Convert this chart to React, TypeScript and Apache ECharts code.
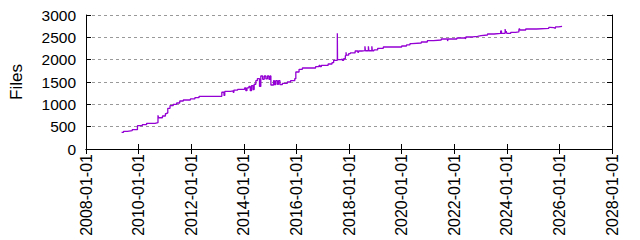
import React, { useEffect, useRef } from "react";
import * as echarts from "echarts";

const dates = [
  "2009-05-10", "2009-06-06", "2009-07-29", "2009-10-04", "2009-12-16",
  "2010-02-21", "2010-04-22", "2010-08-17", "2010-09-27", "2010-10-04",
  "2010-11-28", "2011-01-08", "2011-01-29", "2011-02-10", "2011-03-13",
  "2011-04-26", "2011-06-13", "2011-07-26", "2011-09-13", "2011-12-20",
  "2012-02-21", "2012-04-19", "2013-03-02", "2013-04-01", "2013-04-12",
  "2013-07-01", "2013-08-07", "2013-08-17", "2013-10-08", "2014-01-12",
  "2014-01-29", "2014-02-14", "2014-03-13", "2014-04-01", "2014-04-19",
  "2014-05-10", "2014-05-25", "2014-06-17", "2014-07-08", "2014-08-07",
  "2014-08-25", "2014-09-20", "2014-10-12", "2014-11-03", "2014-11-25",
  "2014-12-16", "2015-01-02", "2015-01-12", "2015-02-18", "2015-03-02",
  "2015-03-20", "2015-04-12", "2015-04-28", "2015-05-18", "2015-06-20",
  "2015-08-28", "2015-10-12", "2015-12-09", "2015-12-24", "2016-02-07",
  "2016-03-24", "2016-09-24", "2016-11-11", "2016-11-25", "2016-12-13",
  "2017-03-17", "2017-05-10", "2017-06-02", "2017-07-23", "2017-07-26",
  "2017-09-13", "2017-10-01", "2017-10-19", "2017-11-11", "2017-11-21",
  "2017-11-25", "2017-12-27", "2018-01-19", "2018-03-27", "2018-05-03",
  "2018-05-14", "2018-06-27", "2018-08-10", "2018-08-17", "2018-09-27",
  "2018-10-04", "2018-11-14", "2018-11-21", "2018-12-13", "2019-02-03",
  "2019-04-22", "2020-01-02", "2020-03-09", "2020-04-26", "2020-05-25",
  "2020-10-01", "2020-12-24", "2021-03-20", "2021-07-05", "2021-10-01",
  "2021-10-08", "2022-02-07", "2022-06-06", "2022-06-13", "2022-09-13",
  "2022-11-21", "2023-01-08", "2023-04-08", "2023-07-08", "2023-10-08",
  "2023-10-19", "2023-12-09", "2023-12-16", "2023-12-24", "2024-01-01",
  "2024-02-25", "2024-05-03", "2024-06-17", "2024-06-24", "2024-07-01",
  "2024-09-20", "2025-02-18", "2025-08-07", "2025-08-25", "2025-10-15",
  "2025-11-07", "2025-12-20", "2026-02-07",
];

const files = [
  374, 396, 410, 432, 522,
  544, 575, 590, 754, 700,
  739, 790, 806, 911, 970,
  1000, 1030, 1075, 1097, 1120,
  1150, 1180, 1270, 1200, 1290,
  1300, 1270, 1320, 1337, 1366,
  1305, 1370, 1400, 1305, 1420,
  1330, 1450, 1530, 1574, 1400,
  1634, 1560, 1634, 1570, 1634,
  1560, 1634, 1433, 1530, 1440,
  1530, 1450, 1530, 1440, 1470,
  1500, 1530, 1574, 1724, 1784,
  1813, 1843, 1870, 1843, 1870,
  1903, 1933, 1985, 2590, 2000,
  2015, 1985, 2020, 2090, 2165,
  2100, 2134, 2150, 2194, 2165,
  2194, 2202, 2300, 2200, 2300,
  2200, 2300, 2200, 2217, 2254,
  2284, 2306, 2329, 2358, 2373,
  2396, 2425, 2440, 2463, 2418,
  2463, 2485, 2463, 2508, 2522,
  2537, 2552, 2575, 2590, 2642,
  2590, 2687, 2600, 2640, 2590,
  2612, 2620, 2664, 2700, 2664,
  2687, 2702, 2724, 2717, 2702,
  2732, 2747, 2747,
];

const xTickYears = [2008, 2010, 2012, 2014, 2016, 2018, 2020, 2022, 2024, 2026, 2028];
const yTicks = [0, 500, 1000, 1500, 2000, 2500, 3000];

function toYear(s: string): number {
  const [y, m, d] = s.split("-").map(Number);
  const start = Date.UTC(y, 0, 1);
  const end = Date.UTC(y + 1, 0, 1);
  return y + (Date.UTC(y, m - 1, d) - start) / (end - start);
}

const FONT = "Liberation Sans";

export default function App() {
  const ref = useRef<HTMLDivElement>(null);
  useEffect(() => {
    if (!ref.current) return;
    const chart = echarts.init(ref.current, undefined, { renderer: "svg" });
    const xMin = xTickYears[0];
    const xMax = xTickYears[xTickYears.length - 1];
    const yMin = yTicks[0];
    const yMax = yTicks[yTicks.length - 1];
    const common = {
      min: xMin,
      max: xMax,
      interval: 2,
      axisLine: { show: true, lineStyle: { color: "#000", width: 1 } },
      axisTick: { show: true, inside: true, length: 5, lineStyle: { color: "#000" } },
      splitLine: { show: false },
    };
    const commonY = {
      min: yMin,
      max: yMax,
      interval: 500,
      axisLine: { show: true, lineStyle: { color: "#000", width: 1 } },
      axisTick: { show: true, inside: true, length: 5, lineStyle: { color: "#000" } },
    };
    chart.setOption({
      animation: false,
      grid: { left: 82, right: 28, top: 15, bottom: 91, containLabel: false },
      xAxis: [
        {
          type: "value",
          position: "bottom",
          ...common,
          axisLabel: {
            rotate: 90,
            margin: 5,
            fontSize: 16,
            fontFamily: FONT,
            color: "#000",
            formatter: (v: number) => `${v}-01-01`,
          },
        },
        {
          type: "value",
          position: "top",
          ...common,
          axisLabel: { show: false },
        },
      ],
      yAxis: [
        {
          type: "value",
          position: "left",
          ...commonY,
          name: "Files",
          nameLocation: "middle",
          nameGap: 61,
          nameRotate: 90,
          nameTextStyle: { fontSize: 17, fontFamily: FONT, color: "#000" },
          axisLabel: {
            margin: 10,
            fontSize: 15.5,
            fontFamily: FONT,
            color: "#000",
            formatter: (v: number) => String(v),
          },
          splitLine: {
            show: true,
            lineStyle: { color: "#999999", type: [3, 3], width: 1 },
          },
        },
        {
          type: "value",
          position: "right",
          ...commonY,
          axisLabel: { show: false },
          splitLine: { show: false },
        },
      ],
      series: [
        {
          type: "line",
          step: "end",
          xAxisIndex: 0,
          yAxisIndex: 0,
          showSymbol: false,
          symbol: "none",
          lineStyle: { color: "#9400d3", width: 1.3 },
          data: dates.map((d, i) => [toYear(d), files[i]]),
        },
      ],
    });
    return () => chart.dispose();
  }, []);
  return (
    <div
      ref={ref}
      style={{ position: "fixed", left: 0, top: 0, width: 640, height: 240, background: "#fff" }}
    />
  );
}
